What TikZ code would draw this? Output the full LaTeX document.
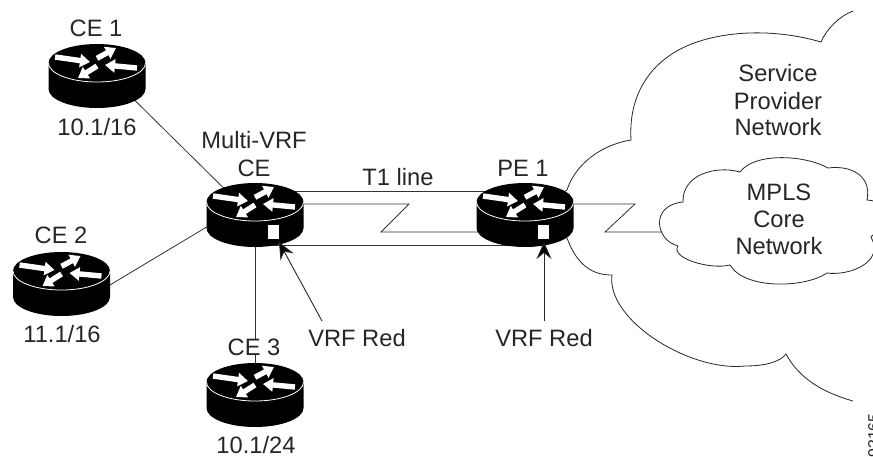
\documentclass[tikz,border=0pt]{standalone}
\usepackage{fontspec}
\setmainfont{Liberation Sans}
\usetikzlibrary{arrows.meta,calc}
\tikzset{
  link/.style={draw=black!80,line width=0.8pt,line join=miter},
  cloudline/.style={draw=black!85,line width=0.8pt},
  label/.style={font=\fontsize{23.7}{27}\selectfont,text=black!85,inner sep=0pt,align=center},
  routerbox/.style={rectangle,minimum width=97pt,minimum height=64pt,inner sep=0pt},
  flow/.style={draw=white,line width=5.4pt,-{Triangle[length=10pt,width=13pt]}},
  pointer/.style={draw=black!85,line width=0.9pt,-{Stealth[length=17pt,width=15pt,inset=6pt,fill=black]}},
  router/.pic={
    \fill[black] (-48.5,-13) -- (-48.5,13) .. controls (-48.5,23.5) and (-26.8,32) .. (0,32)
      .. controls (26.8,32) and (48.5,23.5) .. (48.5,13) -- (48.5,-13)
      .. controls (48.5,-23.5) and (26.8,-32) .. (0,-32)
      .. controls (-26.8,-32) and (-48.5,-23.5) .. (-48.5,-13) -- cycle;
    \draw[white,line width=0.8pt] (-48.5,-13) .. controls (-48.5,-2.5) and (-26.8,6) .. (0,6)
      .. controls (26.8,6) and (48.5,-2.5) .. (48.5,-13);
    \draw[flow] (-42,-19) -- (-7,-14);
    \draw[flow] (0,-17.7) -- (19,-28);
    \draw[flow] (40,-8) -- (8,-11);
    \draw[flow] (0,-10) -- (-19,2);
  }
}
\begin{document}
\begin{tikzpicture}[x=1pt,y=-1pt]
\useasboundingbox (0,0) rectangle (873,456);
\clip (0,0) rectangle (873,456);

\node[routerbox] (ce1) at (97,76) {};
\node[routerbox] (ce2) at (61.5,284) {};
\node[routerbox] (ce3) at (255,395) {};
\node[routerbox] (ce) at (255,215) {};
\node[routerbox] (pe) at (525,215) {};

% outer cloud
\draw[cloudline] (853,11) .. controls (840,16) and (827,28) .. (821,42)
  .. controls (780,30) and (735,30) .. (700,41)
  .. controls (655,55) and (628,90) .. (631,140)
  .. controls (600,145) and (575,165) .. (567,190)
  -- (pe.center) -- (567,238)
  .. controls (578,268) and (595,275) .. (612,275)
  .. controls (606,320) and (690,372) .. (745,366)
  .. controls (765,366) and (780,362) .. (786,354)
  .. controls (800,380) and (825,393) .. (853,401);

% inner cloud
\node[inner sep=0pt,minimum size=1pt] (mpls) at (663,232) {};
\draw[cloudline,fill=white] (683,202)
  .. controls (682,175) and (715,165) .. (740,172)
  .. controls (755,152) and (805,155) .. (828,168)
  .. controls (850,165) and (872,175) .. (867,200)
  .. controls (872,200) and (880,203) .. (885,205)
  -- (885,230)
  .. controls (880,232) and (874,232) .. (871,237)
  .. controls (885,262) and (850,276) .. (827,273)
  .. controls (805,288) and (745,290) .. (730,265)
  .. controls (710,270) and (670,258) .. (678,246)
  .. controls (655,240) and (650,205) .. (683,202) -- cycle;

% connectors
\draw[link] ($(ce1)+(0,-13)$) -- ($(ce)+(0,4)$);
\draw[link] ($(ce2)+(0,30)$) -- ($(ce)+(0,-17)$);
\draw[link] (ce3) -- (ce);
\draw[link] ($(ce)+(0,-24)$) -- ($(pe)+(0,-24)$);
\draw[link] ($(ce)+(0,-11)$) -- (409,204) -- (381,232) -- ($(pe)+(0,17)$);
\draw[link] ($(ce)+(0,30)$) -- ($(pe)+(0,30)$);
\draw[link] ($(pe)+(0,-11)$) -- (635,204) -- (605,232) -- (mpls);

% routers
\pic at (ce1) {router};
\pic at (ce2) {router};
\pic at (ce3) {router};
\pic at (ce) {router};
\pic at (pe) {router};
\fill[white] ($(ce)+(13,10)$) rectangle ($(ce)+(24,24)$);
\fill[white] ($(pe)+(13,10)$) rectangle ($(pe)+(24,24)$);

% pointers
\coordinate (pa) at (322,321);
\coordinate (pb) at (544,321);
\draw[pointer] (pa) -- ($(ce)+(24,27)$);
\draw[pointer] (pb) -- ($(pe)+(19,27)$);

% labels
\node[label] (l1) at (96,28) {CE 1};
\node[label] (l2) at (97,127) {10.1/16};
\node[label] (l3) at (254,140) {Multi-VRF};
\node[label] (l4) at (254,168) {CE};
\node[label] (l5) at (398,177) {T1 line};
\node[label] (l6) at (523,168) {PE 1};
\node[label] (l7) at (61,235) {CE 2};
\node[label] (l8) at (62,334) {11.1/16};
\node[label] (l9) at (357,338) {VRF Red};
\node[label] (l10) at (544,338) {VRF Red};
\node[label,fill=white] (l11) at (254,347) {CE 3};
\node[label] (l12) at (256,445) {10.1/24};
\node[label] (l13) at (778,73) {Service};
\node[label] (l14) at (778,101) {Provider};
\node[label] (l15) at (778,127) {Network};
\node[label] (l16) at (779,192) {MPLS};
\node[label] (l17) at (779,219) {Core};
\node[label] (l18) at (779,246) {Network};
\node[font=\fontsize{16}{16}\selectfont,text=black!85,inner sep=0pt,rotate=90,anchor=north east] (l19) at (868,413) {93165};
\end{tikzpicture}
\end{document}
